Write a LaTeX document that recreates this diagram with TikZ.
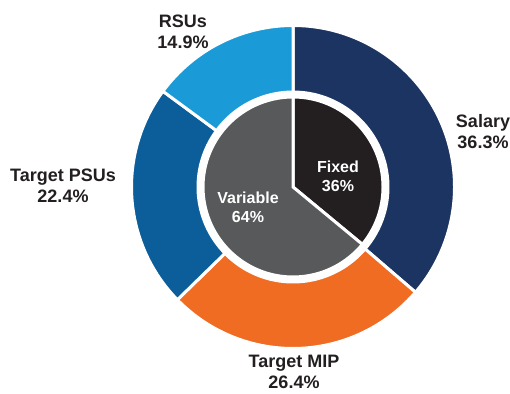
\documentclass[tikz,border=0pt]{standalone}
\usepackage{fontspec}
\setmainfont{Liberation Sans}
\usepackage{xcolor}
\usepackage{tikz}
\usetikzlibrary{positioning}

\definecolor{salarycol}{HTML}{1B3461}
\definecolor{mipcol}{HTML}{EF6C22}
\definecolor{psucol}{HTML}{0B5E99}
\definecolor{rsucol}{HTML}{1A9AD6}
\definecolor{fixedcol}{HTML}{231F20}
\definecolor{varcol}{HTML}{58595B}
\definecolor{textcol}{HTML}{231F20}

\begin{document}
\begin{tikzpicture}[
    x=1pt, y=1pt,
    slice/.style={draw=white, line width=3pt},
    pctlabel/.style={align=center, text=textcol, font=\bfseries\fontsize{18}{21}\selectfont},
    innerlabel/.style={align=center, text=white, font=\bfseries\fontsize{16}{19}\selectfont}
]
\useasboundingbox (0,0) rectangle (510,393);
\coordinate (c) at (293,206);

\begin{scope}[shift={(c)}]
% Outer ring: salary, MIP, PSUs, RSUs
\filldraw[slice, fill=salarycol] (90:161.5) arc[start angle=90, end angle=-40.68, radius=161.5]
    -- (-40.68:95) arc[start angle=-40.68, end angle=90, radius=95] -- cycle;
\filldraw[slice, fill=mipcol] (-40.68:161.5) arc[start angle=-40.68, end angle=-135.72, radius=161.5]
    -- (-135.72:95) arc[start angle=-135.72, end angle=-40.68, radius=95] -- cycle;
\filldraw[slice, fill=psucol] (-135.72:161.5) arc[start angle=-135.72, end angle=-216.36, radius=161.5]
    -- (-216.36:95) arc[start angle=-216.36, end angle=-135.72, radius=95] -- cycle;
\filldraw[slice, fill=rsucol] (143.64:161.5) arc[start angle=143.64, end angle=90, radius=161.5]
    -- (90:95) arc[start angle=90, end angle=143.64, radius=95] -- cycle;

% Inner pie: fixed vs variable
\filldraw[slice, fill=fixedcol] (0,0) -- (90:90) arc[start angle=90, end angle=-39.6, radius=90] -- cycle;
\filldraw[slice, fill=varcol] (0,0) -- (-39.6:90) arc[start angle=-39.6, end angle=-270, radius=90] -- cycle;
\end{scope}

% Labels
\node[pctlabel] (rsu) at (183,361) {RSUs\\14.9\%};
\node[pctlabel] (psu) at (63,207) {Target PSUs\\22.4\%};
\node[pctlabel] (salary) at (483,261) {Salary\\36.3\%};
\node[pctlabel] (mip) at (294,21) {Target MIP\\26.4\%};
\node[innerlabel] (fixed) at (338,217) {Fixed\\36\%};
\node[innerlabel] (variable) at (248,186) {Variable\\64\%};

\end{tikzpicture}
\end{document}
